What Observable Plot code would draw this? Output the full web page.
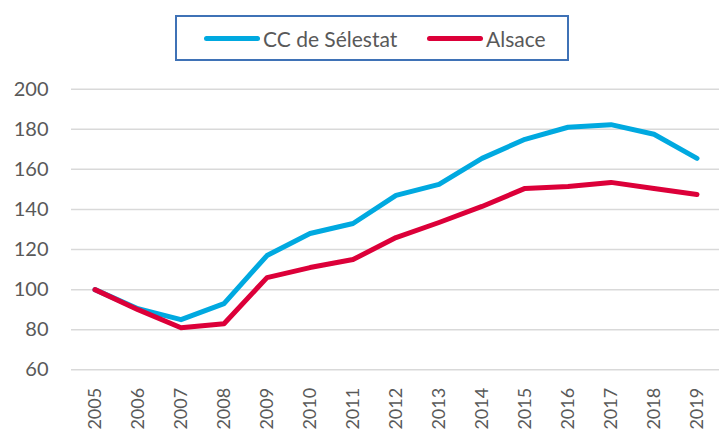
<!DOCTYPE html>
<html><head><meta charset="utf-8">
<script src="https://cdn.jsdelivr.net/npm/d3@7"></script>
<script src="https://cdn.jsdelivr.net/npm/@observablehq/plot@0.6"></script>
<style>
body{margin:0;background:#fff;font-family:Lato,"Open Sans",sans-serif;}
#wrap{position:relative;width:719px;height:434px;overflow:hidden;}
#legend{position:absolute;left:175px;top:15px;width:390px;height:42px;border:2px solid #3f72b6;}
.item{position:absolute;top:0;height:42px;display:flex;align-items:center;font-size:21px;color:#595959;white-space:nowrap;}
.sw{display:inline-block;width:56px;height:5px;border-radius:3px;margin-right:3px;}
#chart{position:absolute;left:0;top:70px;}
</style></head>
<body>
<div id="wrap">
  <div id="legend"></div>
  <div id="chart"></div>
</div>
<script>
const years = ["2005","2006","2007","2008","2009","2010","2011","2012","2013","2014","2015","2016","2017","2018","2019"];
const seriesNames = ["CC de Sélestat","Alsace"];
const ccSelestat = [100, 90.5, 85, 93, 117, 128, 133, 147, 152.5, 165.5, 175, 181, 182.3, 177.5, 165.5];
const alsace = [100, 90, 81, 83, 106, 111, 115, 126, 133.5, 141.5, 150.5, 151.5, 153.5, 150.5, 147.5];
const yTicks = [60, 80, 100, 120, 140, 160, 180, 200];
const colors = ["#00a9e0", "#dc0039"];

const data = [];
[ccSelestat, alsace].forEach((vals, i) => {
  vals.forEach((v, j) => data.push({series: seriesNames[i], year: years[j], value: v}));
});

// legend
const legend = document.getElementById("legend");
const legendX = [27, 250];
seriesNames.forEach((name, i) => {
  const it = document.createElement("div");
  it.className = "item";
  it.style.left = legendX[i] + "px";
  it.innerHTML = `<span class="sw" style="background:${colors[i]}"></span><span>${name}</span>`;
  legend.appendChild(it);
});

const chart = Plot.plot({
  width: 719,
  height: 364,
  marginTop: 18.7,
  marginBottom: 64.7,
  marginLeft: 71,
  marginRight: 0,
  style: {fontFamily: "Lato, 'Open Sans', sans-serif", background: "#fff"},
  x: {type: "band", domain: years, padding: 0, label: null},
  y: {domain: [60, 200], label: null},
  color: {domain: seriesNames, range: colors},
  marks: [
    Plot.gridY(yTicks, {stroke: "#d9d9d9", strokeOpacity: 1, strokeWidth: 1.5}),
    Plot.axisY(yTicks, {tickSize: 0, tickPadding: 23, fontSize: 20, color: "#595959", label: null}),
    Plot.axisX({tickSize: 0, tickRotate: -90, tickPadding: 18, fontSize: 18, color: "#595959", label: null}),
    Plot.line(data, {x: "year", y: "value", z: "series", stroke: "series", strokeWidth: 5, strokeLinecap: "round", strokeLinejoin: "round"})
  ]
});
document.getElementById("chart").appendChild(chart);
</script>
</body></html>
